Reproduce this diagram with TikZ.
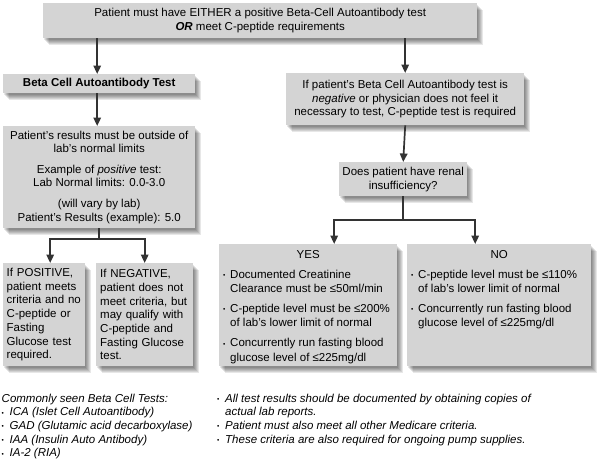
\documentclass[tikz,border=0pt]{standalone}
\usepackage{fontspec}
\setmainfont{Liberation Sans}
\usetikzlibrary{arrows.meta,calc}
\pgfdeclarelayer{bg}
\pgfsetlayers{bg,main}
\definecolor{boxgray}{gray}{0.83}
\definecolor{linegray}{gray}{0.2}
\newcommand\fs{\fontsize{11.5}{13.7}\selectfont}
\newcommand\dotmark{\raisebox{0.7pt}{\fontsize{6.5}{7}\selectfont\upshape •}}
\newcommand\bul{\makebox[7pt][l]{\dotmark}}
\newcommand\nbul{\makebox[8pt][l]{\dotmark}}
\newcommand\shd[1]{\begin{pgfonlayer}{bg}\foreach \o in {1,...,6}{\fill[black,opacity=0.095] ([shift={(\o-0.5,\o+0.5)}]#1.north west) rectangle ([shift={(\o-0.5,\o+0.5)}]#1.south east);}\end{pgfonlayer}}
\begin{document}
\begin{tikzpicture}[x=1pt,y=-1pt,
  box/.style={fill=boxgray, inner sep=0pt, anchor=north west, font=\fs},
  arr/.style={draw=linegray, line width=1.7pt, -{Triangle[length=8.5pt,width=7.5pt]}},
  ln/.style={draw=linegray, line width=1.7pt},
  note/.style={inner sep=0pt, anchor=north west, align=left, font=\fs\itshape}]
\useasboundingbox (0,0) rectangle (597,461);

\node[box, minimum width=434, minimum height=35, align=center] (top) at (43,3)
  {Patient must have EITHER a positive Beta-Cell Autoantibody test\\\textbf{\textit{OR}} meet C-peptide requirements};
\node[box, minimum width=192, minimum height=19, font=\fs\bfseries] (beta) at (3,74)
  {Beta Cell Autoantibody Test};
\node[box, minimum width=192, minimum height=102, align=center] (results) at (3,126)
  {Patient's results must be outside of\\lab's normal limits\\[6.5pt]Example of \textit{positive} test:\\Lab Normal limits: 0.0-3.0\\[7pt](will vary by lab)\\Patient's Results (example): 5.0};
\node[box, text width=75pt, inner xsep=3.5pt, minimum height=103, align=left] (pos) at (3,263)
  {If POSITIVE,\\patient meets\\criteria and no\\C-peptide or\\Fasting\\Glucose test\\required.};
\node[box, text width=89pt, inner xsep=4pt, minimum height=103, align=left] (neg) at (96,263)
  {If NEGATIVE,\\patient does not\\meet criteria, but\\may qualify with\\C-peptide and\\Fasting Glucose\\test.};
\node[box, minimum width=238, minimum height=52, align=center] (ifneg) at (286,73)
  {If patient's Beta Cell Autoantibody test is\\\textit{negative} or physician does not feel it\\necessary to test, C-peptide test is required};
\node[box, minimum width=128, minimum height=34, align=center] (renal) at (339,162)
  {Does patient have renal\\insufficiency?};
\node[box] (yes) at (219,244)
  {\parbox[c][122pt][t]{178pt}{\fs\baselineskip=14.3pt\raggedright
   \vspace*{5.9pt}%
   \makebox[178pt]{YES}\\[5.7pt]
   \hspace*{4pt}\bul Documented Creatinine\\
   \hspace*{11pt}Clearance must be ≤50ml/min\\[5.7pt]
   \hspace*{4pt}\bul C-peptide level must be ≤200\%\\
   \hspace*{11pt}of lab's lower limit of normal\\[5.7pt]
   \hspace*{4pt}\bul Concurrently run fasting blood\\
   \hspace*{11pt}glucose level of ≤225mg/dl}};
\node[box] (no) at (407,244)
  {\parbox[c][122pt][t]{184pt}{\fs\baselineskip=14.3pt\raggedright
   \vspace*{5.9pt}%
   \makebox[184pt]{NO}\\[5.7pt]
   \hspace*{4pt}\bul C-peptide level must be ≤110\%\\
   \hspace*{11pt}of lab's lower limit of normal\\[5.7pt]
   \hspace*{4pt}\bul Concurrently run fasting blood\\
   \hspace*{11pt}glucose level of ≤225mg/dl}};

\node[note] (notesl) at (1.5,393.5)
  {Commonly seen Beta Cell Tests:\\
   \nbul ICA (Islet Cell Autoantibody)\\
   \nbul GAD (Glutamic acid decarboxylase)\\
   \nbul IAA (Insulin Auto Antibody)\\
   \nbul IA-2 (RIA)};
\node[note] (notesr) at (217,393.5)
  {\nbul All test results should be documented by obtaining copies of\\
   \hspace*{8pt}actual lab reports.\\
   \nbul Patient must also meet all other Medicare criteria.\\
   \nbul These criteria are also required for ongoing pump supplies.};

\shd{top}\shd{beta}\shd{results}\shd{pos}\shd{neg}\shd{ifneg}\shd{renal}\shd{yes}\shd{no}

\coordinate (rj) at (0,239);
\coordinate (nj) at (0,220);
\draw[arr] ([xshift=-2pt]beta.north |- top.south) -- ([xshift=-2pt]beta.north);
\draw[arr] (ifneg.north |- top.south) -- (ifneg.north);
\draw[arr] ([xshift=-2pt]beta.south) -- ([xshift=-2pt]results.north);
\draw[ln] (results.south) -- (results.south |- rj);
\draw[arr] (results.south |- rj) -| ([xshift=6pt]pos.north);
\draw[arr] (results.south |- rj) -| (neg.north);
\draw[arr] (ifneg.south) -- (renal.north);
\draw[ln] (renal.south) -- (renal.south |- nj);
\draw[arr] (renal.south |- nj) -| ([xshift=26pt]yes.north);
\draw[arr] (renal.south |- nj) -| ([xshift=-24pt]no.north);
\end{tikzpicture}
\end{document}
